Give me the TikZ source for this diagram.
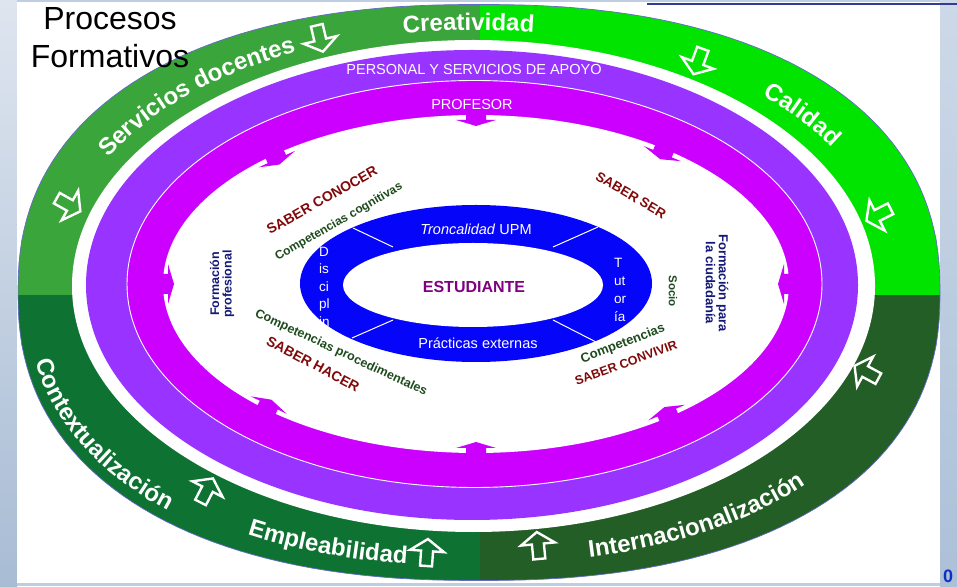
\documentclass[tikz,border=0pt]{standalone}
\usepackage{fontspec}
\setmainfont{Liberation Sans}
\usetikzlibrary{decorations.text}
\definecolor{gUL}{RGB}{58,165,58}
\definecolor{gUR}{RGB}{0,228,0}
\definecolor{gLL}{RGB}{14,115,50}
\definecolor{gLR}{RGB}{34,94,37}
\definecolor{purp}{RGB}{153,51,255}
\definecolor{mag}{RGB}{204,0,255}
\definecolor{blu}{RGB}{5,5,250}
\definecolor{dred}{RGB}{128,10,10}
\definecolor{dgreen}{RGB}{30,75,30}
\definecolor{navy}{RGB}{20,25,120}
\definecolor{stud}{RGB}{128,0,128}
\definecolor{edgec}{RGB}{100,105,200}
\definecolor{bgc}{RGB}{190,205,225}
\definecolor{pagenum}{RGB}{16,48,192}
\definecolor{topline}{RGB}{50,60,150}
\pgfmathdeclarefunction{rx}{2}{\begingroup
  \pgfmathparse{(1-#2)*(473.5+401.5*cos(#1))+#2*(479+461*sign(cos(#1))*pow(abs(cos(#1))+0.00001,0.87))}%
  \pgfmathsmuggle\pgfmathresult\endgroup}
\pgfmathdeclarefunction{ry}{2}{\begingroup
  \pgfmathparse{(1-#2)*(300+246*sin(#1))+#2*(293.5+288*sign(sin(#1))*pow(abs(sin(#1))+0.00001,0.87))}%
  \pgfmathsmuggle\pgfmathresult\endgroup}
\newcommand\ringtext[4]{%
  \path[decorate, decoration={text along path, text align=center,
    text={|\fontsize{24}{24}\selectfont\bfseries\color{white}|#4}}]
    plot[variable=\t, domain=#1:#2, samples=120] ({rx(\t,#3)},{ry(\t,#3)});}
\tikzset{
  garrowstyle/.style={white, line width=2.4, line join=miter},
  marrowstyle/.style={fill=mag},
  ringlabel/.style={white, inner sep=0pt, font=\fontsize{14.5}{14.5}\selectfont},
  innerlbl/.style={inner sep=0pt, font=\bfseries\fontsize{#1}{#1}\selectfont},
}
\begin{document}
\begin{tikzpicture}[x=1pt,y=1pt]
\useasboundingbox (0,0) rectangle (957,586);
% background
\fill[bgc] (0,0) rectangle (957,586);
\shade[top color={rgb,255:red,222;green,229;blue,239}, bottom color={rgb,255:red,168;green,188;blue,212}] (0,0) rectangle (17,586);
\shade[top color={rgb,255:red,205;green,217;blue,232}, bottom color={rgb,255:red,172;green,192;blue,216}] (940,0) rectangle (957,586);
\fill[white] (17,3) rectangle (940,584);
\draw[topline, line width=2] (647,582) -- (957,582);
\node[pagenum, anchor=base west, inner sep=0pt, font=\bfseries\fontsize{18}{18}\selectfont] (pnum) at (943,4) {0};
% green ring
\begin{scope}
  \clip plot[variable=\t, domain=0:360, samples=181] ({rx(\t,1)},{ry(\t,1)}) -- cycle;
  \fill[gUL] (0,291) rectangle (480,600);
  \fill[gUR] (480,291) rectangle (957,600);
  \fill[gLL] (0,0) rectangle (480,291);
  \fill[gLR] (480,0) rectangle (957,291);
\end{scope}
\draw[edgec, line width=0.7] plot[variable=\t, domain=0:360, samples=181] ({rx(\t,1)},{ry(\t,1)}) -- cycle;
\fill[white] (473.5,300) ellipse[x radius=401.5, y radius=246];
% purple / magenta rings
\fill[purp] (472,301) ellipse[x radius=386, y radius=235];
\fill[mag] (474.5,302) ellipse[x radius=347, y radius=203];
\draw[white, line width=0.9] (474.5,302) ellipse[x radius=347.5, y radius=203.5];
\fill[white] (476,302) ellipse[x radius=313, y radius=169];
\foreach \tt in {0,53,90,130,180,228,270,308}{
  \pgfmathsetmacro\px{476+313*cos(\tt)}
  \pgfmathsetmacro\py{302+169*sin(\tt)}
  \pgfmathsetmacro\ang{atan2(313*sin(\tt),169*cos(\tt))+180}
  \fill[marrowstyle, shift={(\px,\py)}, rotate=\ang] (-3,-10) -- (5,-10) -- (5,-20) -- (11,0) -- (5,20) -- (5,10) -- (-3,10) -- cycle;
}
\node[ringlabel] (personal) at (474,516) {PERSONAL Y SERVICIOS DE APOYO};
\node[ringlabel] (profesor) at (472,481) {PROFESOR};
% green ring texts
\ringtext{125}{57}{0.28}{Creatividad}
\ringtext{184}{92}{0.28}{Servicios docentes}
\ringtext{67.5}{5.5}{0.28}{Calidad}
\ringtext{157}{257}{0.84}{Contextualizaci{ó}n}
\ringtext{209}{284}{0.7}{Empleabilidad}
\ringtext{259.5}{355.5}{0.65}{Internacionalizaci{ó}n}
% green ring arrows
\foreach \X/\Y in {320/547, 698/524, 878/371, 866/214, 538/41, 427/34, 207/96, 69/381}{
  \pgfmathsetmacro\ang{atan2(-(\Y-294)*2.625,-(\X-476))}
  \draw[garrowstyle, shift={(\X,\Y)}, rotate=\ang] (-14,-6) -- (1,-6) -- (1,-17) -- (13,0) -- (1,17) -- (1,6) -- (-14,6) -- cycle;
}
% student ring
\fill[blu] (476,302.5) ellipse[x radius=176, y radius=78.5];
\fill[white] (473,301) ellipse[x radius=130, y radius=42];
\draw[white, line width=1] (353,358) -- (393,339);
\draw[white, line width=1] (352,248) -- (393,266);
\draw[white, line width=1] (598,359) -- (553,339);
\draw[white, line width=1] (553,266) -- (598,243);
\node[ringlabel] (tronc) at (476,357) {\textit{Troncalidad} UPM};
\node[ringlabel] (pract) at (478,243) {Prácticas externas};
\node[stud, inner sep=0pt, font=\bfseries\fontsize{16}{16}\selectfont] (estud) at (474,299) {ESTUDIANTE};
\begin{scope}
  \clip (300,259) rectangle (345,350);
  \node[white, anchor=north west, align=left, inner sep=0pt, font=\fontsize{13.5}{17.5}\selectfont] (disc) at (319,339) {D\\is\\ci\\pl\\in};
\end{scope}
\node[white, anchor=north west, align=left, inner sep=0pt, font=\fontsize{13.5}{18}\selectfont] (tut) at (614,328) {T\\ut\\or\\ía};
% inner labels
\node[innerlbl=14, dred, rotate=29.5] (sconocer) at (322,386) {SABER CONOCER};
\node[innerlbl=12, dgreen, rotate=30] (ccog) at (339,364) {Competencias cognitivas};
\node[innerlbl=13.5, dred, rotate=-30.5] (sser) at (631,391) {SABER SER};
\node[innerlbl=12.5, navy, rotate=90, align=center] (fprof) at (222,302) {Formación\\profesional};
\node[innerlbl=13, navy, rotate=-90, align=center] (fciud) at (717,303) {Formación para\\la ciudadanía};
\node[innerlbl=11.5, dgreen, rotate=-90] (socio) at (673,295) {Socio};
\node[innerlbl=12.5, dgreen, rotate=-25] (cproc) at (341,233) {Competencias procedimentales};
\node[innerlbl=14, dred, rotate=-28] (shacer) at (313,222) {SABER HACER};
\node[innerlbl=13, dgreen, rotate=21] (comp) at (623,242) {Competencias};
\node[innerlbl=12.5, dred, rotate=20] (sconv) at (626,223) {SABER CONVIVIR};
% title
\node[anchor=north, align=center, inner sep=0pt, font=\fontsize{32}{38}\selectfont] (title) at (110,579) {Procesos\\Formativos};
\end{tikzpicture}
\end{document}
